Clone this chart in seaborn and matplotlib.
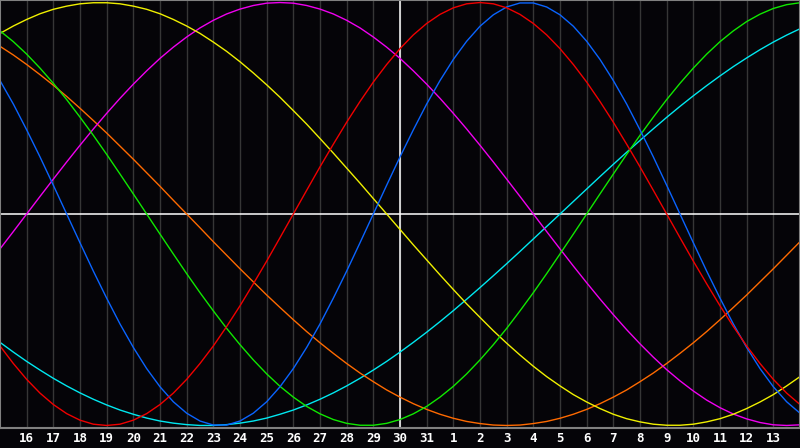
import pandas as pd
import seaborn as sns
from matplotlib import pyplot as plt

# half-day steps, relative to the centre line (the 30th)
days = [h / 2 for h in range(-30, 31)]
tick_days = list(range(-14, 15))
day_labels = ['16', '17', '18', '19', '20', '21', '22', '23', '24', '25', '26', '27', '28', '29', '30',
              '31', '1', '2', '3', '4', '5', '6', '7', '8', '9', '10', '11', '12', '13']

# cycle values (range -1..1), every half day
red = [-0.624, -0.707, -0.782, -0.847, -0.901, -0.944, -0.975, -0.994, -1.000, -0.994, -0.975, -0.944, -0.901,
       -0.847, -0.782, -0.707, -0.624, -0.532, -0.434, -0.330, -0.223, -0.112, 0.000, 0.112, 0.223, 0.330,
       0.434, 0.532, 0.624, 0.707, 0.782, 0.847, 0.901, 0.944, 0.975, 0.994, 1.000, 0.994, 0.975, 0.944, 0.901,
       0.847, 0.782, 0.707, 0.624, 0.532, 0.434, 0.330, 0.223, 0.112, 0.000, -0.112, -0.223, -0.330, -0.434,
       -0.532, -0.624, -0.707, -0.782, -0.847, -0.901]
blue = [0.631, 0.520, 0.398, 0.270, 0.136, 0.000, -0.136, -0.270, -0.398, -0.520, -0.631, -0.731, -0.817,
        -0.888, -0.942, -0.979, -0.998, -0.998, -0.979, -0.942, -0.888, -0.817, -0.731, -0.631, -0.520, -0.398,
        -0.270, -0.136, 0.000, 0.136, 0.270, 0.398, 0.520, 0.631, 0.731, 0.817, 0.888, 0.942, 0.979, 0.998,
        0.998, 0.979, 0.942, 0.888, 0.817, 0.731, 0.631, 0.520, 0.398, 0.270, 0.136, 0.000, -0.136, -0.270,
        -0.398, -0.520, -0.631, -0.731, -0.817, -0.888, -0.942]
green = [0.866, 0.815, 0.756, 0.690, 0.618, 0.541, 0.458, 0.372, 0.282, 0.189, 0.095, 0.000, -0.095, -0.189,
         -0.282, -0.372, -0.458, -0.541, -0.618, -0.690, -0.756, -0.815, -0.866, -0.910, -0.945, -0.972, -0.990,
         -0.999, -0.999, -0.990, -0.972, -0.945, -0.910, -0.866, -0.815, -0.756, -0.690, -0.618, -0.541, -0.458,
         -0.372, -0.282, -0.189, -0.095, 0.000, 0.095, 0.189, 0.282, 0.372, 0.458, 0.541, 0.618, 0.690, 0.756,
         0.815, 0.866, 0.910, 0.945, 0.972, 0.990, 0.999]
yellow = [0.854, 0.889, 0.920, 0.947, 0.968, 0.983, 0.994, 0.999, 0.999, 0.994, 0.983, 0.968, 0.947, 0.920,
          0.889, 0.854, 0.813, 0.769, 0.720, 0.667, 0.611, 0.552, 0.489, 0.425, 0.357, 0.288, 0.217, 0.146,
          0.073, 0.000, -0.073, -0.146, -0.217, -0.288, -0.357, -0.425, -0.489, -0.552, -0.611, -0.667, -0.720,
          -0.769, -0.813, -0.854, -0.889, -0.920, -0.947, -0.968, -0.983, -0.994, -0.999, -0.999, -0.994, -0.983,
          -0.968, -0.947, -0.920, -0.889, -0.854, -0.813, -0.769]
magenta = [-0.165, -0.083, 0.000, 0.083, 0.165, 0.246, 0.325, 0.402, 0.476, 0.547, 0.614, 0.677, 0.736, 0.789,
           0.837, 0.880, 0.916, 0.946, 0.969, 0.986, 0.997, 1.000, 0.997, 0.986, 0.969, 0.946, 0.916, 0.880,
           0.837, 0.789, 0.736, 0.677, 0.614, 0.547, 0.476, 0.402, 0.325, 0.246, 0.165, 0.083, 0.000, -0.083,
           -0.165, -0.246, -0.325, -0.402, -0.476, -0.547, -0.614, -0.677, -0.736, -0.789, -0.837, -0.880,
           -0.916, -0.946, -0.969, -0.986, -0.997, -1.000, -0.997]
orange = [0.793, 0.752, 0.707, 0.659, 0.609, 0.556, 0.500, 0.442, 0.383, 0.321, 0.259, 0.195, 0.131, 0.065,
          0.000, -0.065, -0.131, -0.195, -0.259, -0.321, -0.383, -0.442, -0.500, -0.556, -0.609, -0.659, -0.707,
          -0.752, -0.793, -0.832, -0.866, -0.897, -0.924, -0.947, -0.966, -0.981, -0.991, -0.998, -1.000, -0.998,
          -0.991, -0.981, -0.966, -0.947, -0.924, -0.897, -0.866, -0.832, -0.793, -0.752, -0.707, -0.659, -0.609,
          -0.556, -0.500, -0.442, -0.383, -0.321, -0.259, -0.195, -0.131]
cyan = [-0.607, -0.653, -0.697, -0.738, -0.777, -0.813, -0.846, -0.876, -0.903, -0.927, -0.947, -0.965, -0.979,
        -0.989, -0.996, -1.000, -1.000, -0.996, -0.989, -0.979, -0.965, -0.947, -0.927, -0.903, -0.876, -0.846,
        -0.813, -0.777, -0.738, -0.697, -0.653, -0.607, -0.559, -0.509, -0.457, -0.403, -0.348, -0.292, -0.235,
        -0.177, -0.118, -0.059, 0.000, 0.059, 0.118, 0.177, 0.235, 0.292, 0.348, 0.403, 0.457, 0.509, 0.559,
        0.607, 0.653, 0.697, 0.738, 0.777, 0.813, 0.846, 0.876]

series = {'cyan': cyan, 'orange': orange, 'magenta': magenta, 'yellow': yellow,
          'green': green, 'blue': blue, 'red': red}
colors = {'cyan': '#00e8f0', 'orange': '#ff6a00', 'magenta': '#f000f0', 'yellow': '#f0f000',
          'green': '#10e800', 'blue': '#0a64ff', 'red': '#f00000'}

df = pd.DataFrame([(d, v, name) for name, vals in series.items() for d, v in zip(days, vals)],
                  columns=['day', 'value', 'cycle'])

sns.set_style('dark', {'axes.facecolor': '#050408', 'figure.facecolor': '#050408',
                       'axes.edgecolor': '#808080'})

fig = plt.figure(figsize=(8, 4.48), dpi=100)
ax = fig.add_axes([0, 20 / 448, 1, 428 / 448])

for d in tick_days:
    ax.axvline(d, color='#363636', lw=1, zorder=0)
ax.axhline(0, color='white', lw=1.1, zorder=1)
ax.axvline(0, color='white', lw=1.1, zorder=1)

sns.lineplot(data=df, x='day', y='value', hue='cycle', palette=colors, hue_order=list(series),
             lw=1, legend=False, ax=ax, zorder=2)

ax.set_xlim(-15, 15)
ax.set_ylim(-1.012, 1.012)
ax.set_xticks(tick_days)
ax.set_xticklabels(day_labels, color='white', fontsize=9, fontweight='bold', family='DejaVu Sans Mono')
ax.tick_params(axis='x', length=0, pad=3)
ax.set_yticks([])
ax.set_xlabel('')
ax.set_ylabel('')
ax.grid(False)
for s in ax.spines.values():
    s.set_color('#808080')
    s.set_linewidth(1.5)

fig.savefig('out.png', dpi=100, facecolor='#050408')
